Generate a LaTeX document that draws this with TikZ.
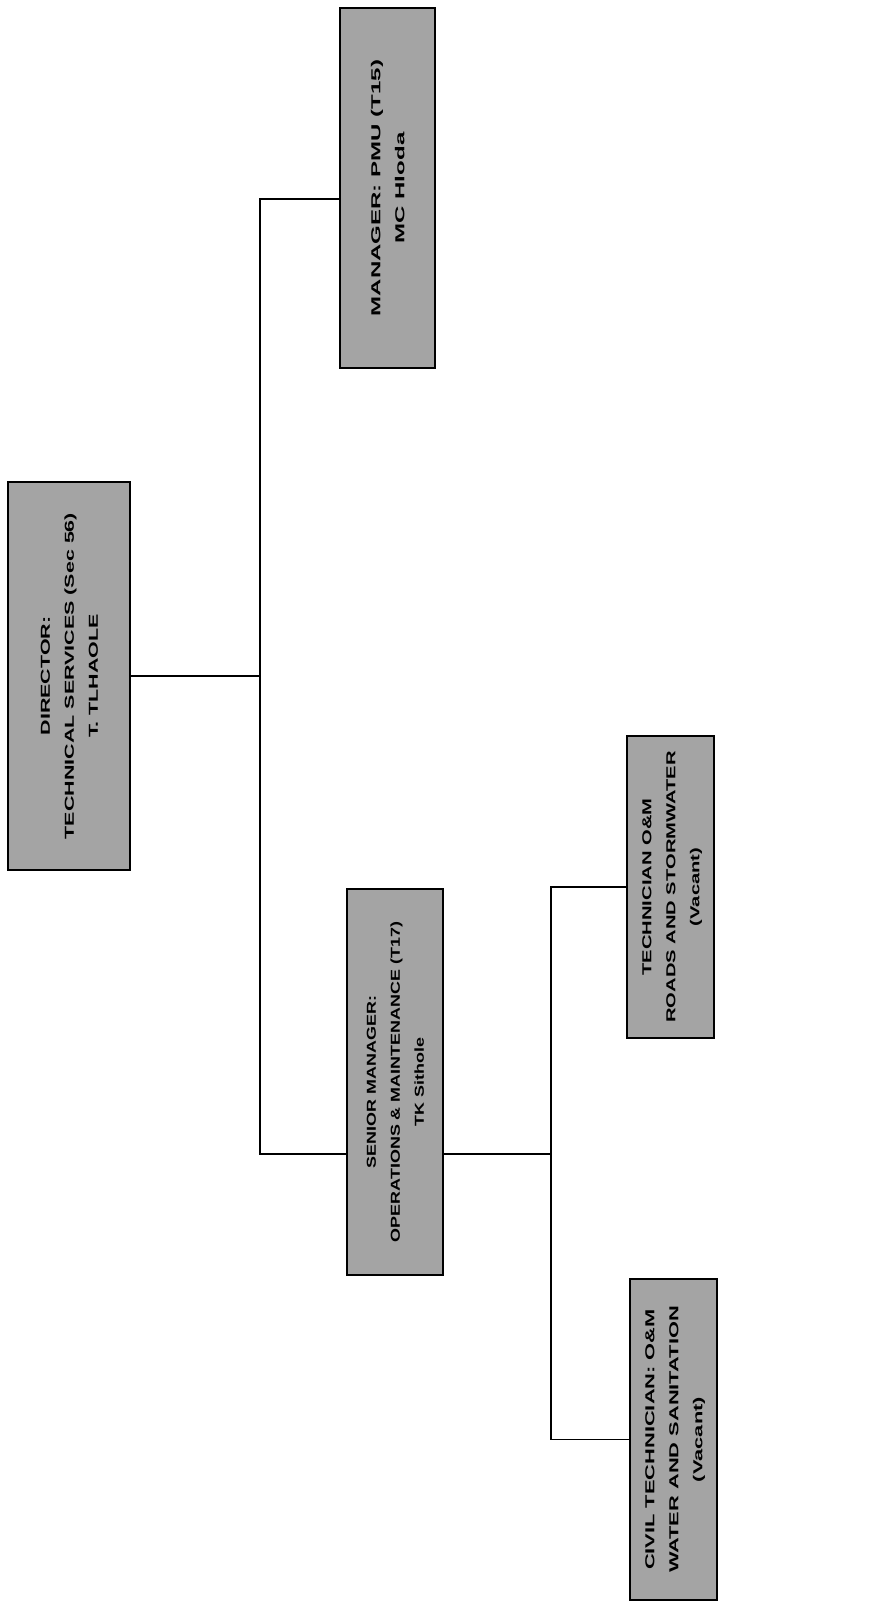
\documentclass[tikz,border=0pt]{standalone}
\usepackage{fontspec}
\setmainfont{Liberation Sans}
\definecolor{boxgray}{HTML}{A4A4A4}
\newcommand{\boxtext}[2]{\rotatebox{90}{\scalebox{#1}[1]{\fontsize{13pt}{24pt}\selectfont\bfseries\begin{tabular}{@{}c@{}}#2\end{tabular}}}}
\begin{document}
\begin{tikzpicture}[x=1pt,y=-1pt]
\tikzset{
  orgbox/.style={draw=black, line width=2.6pt, fill=boxgray, inner sep=0pt, text=black},
  conn/.style={draw=black, line width=1.8pt}
}
\useasboundingbox (0,0) rectangle (889,1607);
\fill[white] (0,0) rectangle (889,1607);

\node[orgbox, minimum width=122pt, minimum height=388pt] (dir) at (69,676)
  {\boxtext{1.65}{DIRECTOR:\\TECHNICAL SERVICES (Sec 56)\\T. TLHAOLE}};
\node[orgbox, minimum width=95pt, minimum height=360pt] (pmu) at (387.5,188)
  {\boxtext{1.85}{MANAGER: PMU (T15)\\MC Hloda}};
\node[orgbox, minimum width=96pt, minimum height=386pt] (sen) at (395,1082)
  {\boxtext{1.38}{SENIOR MANAGER:\\OPERATIONS \& MAINTENANCE (T17)\\TK Sithole}};
\node[orgbox, minimum width=87pt, minimum height=302pt] (tom) at (670.5,887)
  {\boxtext{1.55}{TECHNICIAN O\&M\\ROADS AND STORMWATER\\(Vacant)}};
\node[orgbox, minimum width=87pt, minimum height=321pt] (civ) at (673.5,1439.5)
  {\boxtext{1.68}{CIVIL TECHNICIAN: O\&M\\WATER AND SANITATION\\(Vacant)}};

\coordinate (t1) at (260,199);
\coordinate (t2) at (260,1154);
\coordinate (r2) at (551,1154);

\draw[conn] (dir.east) -- (dir.east -| t2);
\draw[conn] (t1 -| pmu.west) -- (t1) -- (t2) -- (t2 -| sen.west);
\draw[conn] (r2 -| sen.east) -- (r2);
\draw[conn] (tom.west) -| (civ.west -| r2) -- (civ.west);
\end{tikzpicture}
\end{document}
